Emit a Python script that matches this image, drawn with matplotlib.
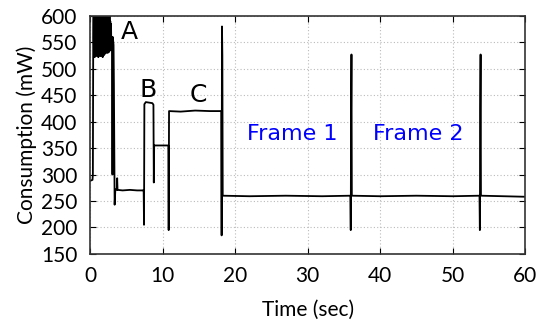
import matplotlib
matplotlib.use("Agg")
import matplotlib.pyplot as plt

# ---- data ----
time_s = [0.0, 0.35, 0.4, 0.45,
          0.5, 0.55, 0.6, 0.65, 0.7, 0.75, 0.8, 0.85, 0.9, 0.95,
          1.0, 1.05, 1.1, 1.15, 1.2, 1.25, 1.3, 1.35, 1.4, 1.45,
          1.5, 1.55, 1.6, 1.65, 1.7, 1.75, 1.8, 1.85, 1.9, 1.95,
          2.0, 2.05, 2.1, 2.15, 2.2, 2.25, 2.3, 2.35, 2.4, 2.45,
          2.5, 2.55, 2.6, 2.65, 2.7, 2.75, 2.8, 2.85, 2.9, 2.95,
          3.0, 3.05, 3.1, 3.15, 3.25, 3.3, 3.4, 3.5,
          3.7, 3.75, 3.8, 4.5, 5.5, 6.5, 7.3, 7.4, 7.45, 7.5,
          7.7, 8.6, 8.75, 8.8, 8.85, 10.8, 10.85, 10.9,
          12.5, 14.5, 16.5, 18.1, 18.15, 18.2, 18.25, 18.3,
          22.0, 27.0, 32.0, 35.9, 35.95, 36.0, 36.05, 36.1,
          40.0, 45.0, 50.0, 53.7, 53.75, 53.8, 53.85, 53.9,
          57.0, 60.0]
power_mw = [288, 290, 300, 560,
            610, 525, 612, 522, 615, 525, 610, 528, 614, 524,
            612, 526, 610, 522, 615, 525, 612, 528, 610, 524,
            615, 526, 612, 525, 610, 522, 614, 530, 610, 526,
            612, 528, 608, 532, 600, 530, 605, 535, 598, 530,
            602, 540, 596, 532, 600, 538, 590, 535, 585, 540,
            560, 540, 300, 560, 545, 470, 243, 272,
            271, 293, 271, 270, 271, 270, 270, 271, 205, 433,
            437, 435, 432, 285, 355, 355, 195, 420,
            419, 421, 420, 420, 185, 580, 525, 260,
            259, 260, 259, 260, 195, 425, 527, 260,
            259, 260, 259, 260, 195, 425, 527, 260,
            259, 258]

region_labels = ["A", "B", "C"]
region_x = [5.4, 8.0, 14.9]
region_y = [570, 460, 451]
frame_labels = ["Frame 1", "Frame 2"]
frame_x = [27.9, 45.2]
frame_y = [376, 376]

x_ticks = [0, 10, 20, 30, 40, 50, 60]
y_ticks = [150, 200, 250, 300, 350, 400, 450, 500, 550, 600]

# ---- plotting ----
fig = plt.figure(figsize=(5.42, 3.31), dpi=100)
ax = fig.add_axes([0.166, 0.233, 0.803, 0.719])

ax.plot(time_s, power_mw, color="black", linewidth=1.3)

ax.set_xlim(0, 60)
ax.set_ylim(150, 600)
ax.set_xticks(x_ticks)
ax.set_yticks(y_ticks)
ax.grid(True, color="#bbbbbb", linestyle=(0, (1, 2)), linewidth=0.8)
ax.tick_params(direction="in", top=True, right=True, length=4,
               labelsize=15, pad=9)
for lab in ax.get_xticklabels() + ax.get_yticklabels():
    lab.set_family("Lato")
for s in ax.spines.values():
    s.set_linewidth(1.2)
    s.set_color("#333333")

ax.set_xlabel("Time (sec)", fontsize=15, family="Lato", labelpad=10)
ax.set_ylabel("Consumption (mW)", fontsize=15, family="Lato", labelpad=3)

for lab, x, y in zip(region_labels, region_x, region_y):
    ax.text(x, y, lab, fontsize=18, color="black", ha="center", va="center")
for lab, x, y in zip(frame_labels, frame_x, frame_y):
    ax.text(x, y, lab, fontsize=16, color="blue", ha="center", va="center")

fig.savefig("out.png", dpi=100)
